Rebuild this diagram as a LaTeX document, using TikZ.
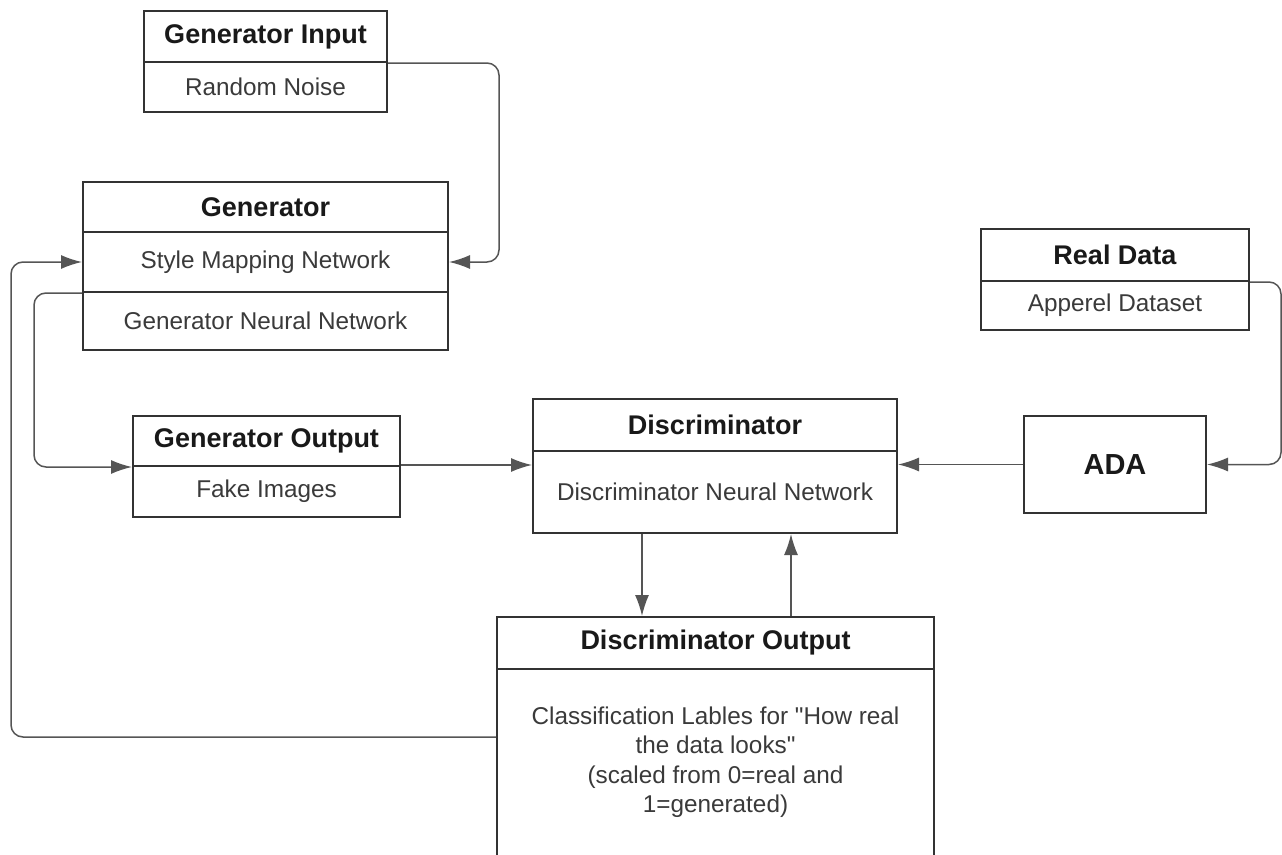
\documentclass[tikz,border=0pt]{standalone}
\usepackage{fontspec}
\setmainfont{Liberation Sans}[Ligatures=TeXOff]
\usetikzlibrary{arrows.meta}
\definecolor{boxline}{HTML}{333333}
\definecolor{connline}{HTML}{555555}
\definecolor{bodytext}{HTML}{3A3A3A}
\tikzset{
  cell/.style={draw=boxline, line width=2pt, inner sep=0pt, rectangle, align=center},
  hdr/.style={cell, font=\fontsize{27}{32}\selectfont\bfseries, text=black!90},
  body/.style={cell, font=\fontsize{24.3}{29.5}\selectfont, text=bodytext},
  conn/.style={draw=connline, line width=1.5pt, rounded corners=12pt,
    -{Latex[length=21pt,width=14pt]}},
}
\begin{document}
\begin{tikzpicture}[x=1pt,y=-1pt]
\useasboundingbox (0,0) rectangle (1282,854);
\clip (0,0) rectangle (1282,854);
\fill[white] (0,0) rectangle (1282,854);

% Generator input
\node[hdr, minimum width=243pt, minimum height=51pt] (gih) at (265.5,36.5) {Generator Input};
\node[body, minimum width=243pt, minimum height=50pt] (gib) at (265.5,87) {Random Noise};

% Generator
\node[hdr, minimum width=365pt, minimum height=50pt] (gh) at (265.5,207) {Generator};
\node[body, minimum width=365pt, minimum height=60pt] (gsm) at (265.5,262) {Style Mapping Network};
\node[body, minimum width=365pt, minimum height=58pt] (gnn) at (265.5,321) {Generator Neural Network};

% Generator output
\node[hdr, minimum width=267pt, minimum height=50pt] (goh) at (266.5,441) {Generator Output};
\node[body, minimum width=267pt, minimum height=51pt] (gob) at (266.5,491.5) {Fake Images};

% Discriminator
\node[hdr, minimum width=364pt, minimum height=52pt] (dh) at (715,425) {Discriminator};
\node[body, minimum width=364pt, minimum height=82pt] (db) at (715,492) {Discriminator Neural Network};

% Discriminator output
\node[hdr, minimum width=437pt, minimum height=52pt] (doh) at (715.5,643) {Discriminator Output};
\node[body, minimum width=437pt, minimum height=200pt] (dob) at (715.5,769) {};
\node[font=\fontsize{24.3}{29.5}\selectfont, text=bodytext, align=center, inner sep=0pt] (dotext) at (715.5,762)
  {Classification Lables for "How real\\the data looks"\\(scaled from 0=real and\\1=generated)};

% Real data and ADA
\node[hdr, minimum width=268pt, minimum height=52pt] (rdh) at (1115,255) {Real Data};
\node[body, minimum width=268pt, minimum height=49pt] (rdb) at (1115,305.5) {Apperel Dataset};
\node[hdr, minimum width=182pt, minimum height=97pt, font=\fontsize{29}{34}\selectfont\bfseries] (ada) at (1115,464.5) {ADA};

% Connectors
\draw[conn] (gih.south east) -| ([xshift=50pt]gsm.east) -- (gsm.east);
\draw[conn] ([yshift=-69pt]dob.north west) -| ([xshift=-71pt]gsm.west) -- (gsm.west);
\draw[conn] (gsm.south west) -| ([xshift=-98pt]goh.south west) -- (goh.south west);
\draw[conn] (gob.north east) -- (gob.north east -| db.west);
\draw[conn] (ada.west) -- (ada.west -| db.east);
\draw[conn] (rdh.south east) -| ([xshift=74pt]ada.east) -- (ada.east);
\draw[conn] ([xshift=110pt]db.south west) -- ([xshift=146pt]doh.north west);
\draw[conn] ([xshift=295pt]doh.north west) -- ([xshift=259pt]db.south west);
\end{tikzpicture}
\end{document}
